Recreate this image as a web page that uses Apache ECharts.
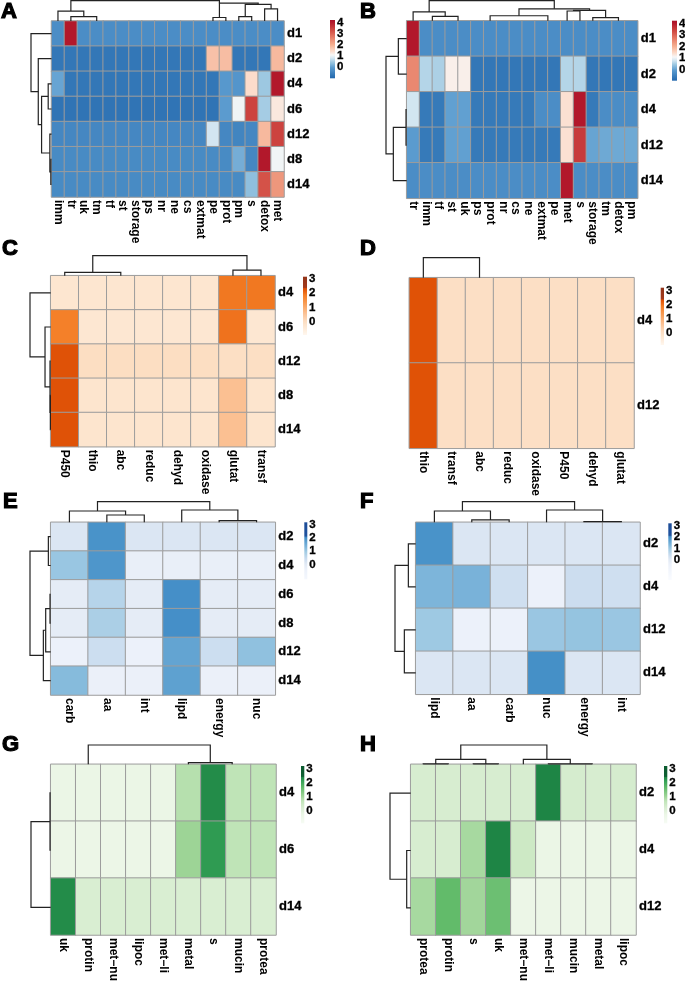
<!DOCTYPE html>
<html><head><meta charset="utf-8">
<script src="https://cdn.jsdelivr.net/npm/echarts@6/dist/echarts.min.js"></script>
<style>html,body{margin:0;padding:0;background:#fff}#c{width:685px;height:984px}</style>
</head><body><div id="c"></div>
<script>
// ---------------- DATA ----------------
const A_cols = ['imm','tr','uk','tm','tf','st','storage','ps','nr','ne','cs','extmat','pe','prot','pm','s','detox','met'];
const A_rows = ['d1','d2','d4','d6','d12','d8','d14'];
const A_vals = [
  [-0.35,4.0,-0.35,-0.35,-0.35,-0.35,-0.35,-0.35,-0.35,-0.35,-0.35,-0.35,-0.35,-0.35,-0.35,-0.35,-0.35,-0.35],
  [-0.75,-0.75,-0.75,-0.75,-0.75,-0.75,-0.75,-0.75,-0.75,-0.75,-0.75,-0.75,1.75,1.8,-0.75,-0.75,-0.75,1.85],
  [0.0,-0.75,-0.75,-0.75,-0.75,-0.75,-0.75,-0.75,-0.75,-0.75,-0.75,-0.75,-0.75,-0.15,-0.2,1.4,0.4,4.0],
  [-0.8,-0.8,-0.8,-0.8,-0.8,-0.8,-0.8,-0.8,-0.8,-0.8,-0.8,-0.8,-0.8,-0.1,1.0,3.4,0.45,1.25],
  [-0.45,-0.45,-0.45,-0.45,-0.45,-0.45,-0.45,-0.45,-0.45,-0.45,-0.45,-0.45,0.75,-0.45,-0.5,-0.45,1.85,3.4],
  [-0.4,-0.4,-0.4,-0.4,-0.4,-0.4,-0.4,-0.4,-0.4,-0.4,-0.4,-0.4,-0.4,-0.4,0.1,-0.45,4.0,1.0],
  [-0.4,-0.4,-0.4,-0.4,-0.4,-0.4,-0.4,-0.4,-0.4,-0.4,-0.4,-0.4,-0.4,-0.4,-0.4,0.3,3.2,2.3]
];
const A_ticks = [0,1,2,3,4];
const A_colTree = [[1,0,3,0,14],[0,0,2,14,31],[12,0,13,0,11],[14,0,15,0,14],[16,0,17,0,38],[14.5,14,16.5,38,52],[12.5,11,15.5,52,56],[1,31,12.5,56,64]];
const A_rowTree = [[2,0,3,0,10],[5,0,6,0,2],[4,0,5.5,2,5],[2.5,10,4.75,5,30],[1,0,3.625,30,40],[0,0,2.31,40,62]];

const B_cols = ['tr','imm','tf','st','uk','ps','prot','nr','cs','ne','extmat','pe','met','s','storage','tm','detox','pm'];
const B_rows = ['d1','d2','d4','d12','d14'];
const B_vals = [
  [4.0,-0.35,-0.35,-0.35,-0.35,-0.35,-0.35,-0.35,-0.35,-0.35,-0.35,-0.35,-0.35,-0.35,-0.35,-0.35,-0.35,-0.35],
  [2.5,0.55,0.5,1.15,1.15,-0.75,-0.75,-0.75,-0.75,-0.75,-0.75,-0.75,0.55,0.55,-0.75,-0.75,-0.75,-0.75],
  [0.75,-0.7,-0.7,-0.05,-0.05,-0.7,-0.7,-0.7,-0.7,-0.7,-0.35,-0.35,1.35,4.0,-0.7,-0.35,-0.35,-0.35],
  [-0.1,-0.7,-0.7,-0.05,-0.05,-0.7,-0.7,-0.7,-0.7,-0.7,-0.7,-0.7,1.35,3.5,0.0,0.05,0.05,0.05],
  [-0.35,-0.35,-0.35,-0.35,-0.35,-0.35,-0.35,-0.35,-0.35,-0.35,-0.35,-0.35,4.0,-0.35,-0.35,-0.35,-0.35,-0.35]
];
const B_ticks = [0,1,2,3,4];
const B_colTree = [[1.5,0,3.5,0,14],[0,0,2.5,14,28],[6,0,10.5,0,16],[12,0,13,0,31],[14,0,16,0,10],[12.5,31,15,10,33],[8.25,16,13.75,33,38],[1.25,28,11,38,64]];
const B_rowTree = [[0,0,1,0,25],[2,0,3,0,2],[2.5,2,4,0,40],[0.5,25,3.25,40,62]];

const C_cols = ['P450','thio','abc','reduc','dehyd','oxidase','glutat','transf'];
const C_rows = ['d4','d6','d12','d8','d14'];
const C_vals = [
  [-0.3,-0.3,-0.3,-0.3,-0.3,-0.3,1.9,1.9],
  [1.8,-0.35,-0.35,-0.35,-0.35,-0.35,1.95,-0.35],
  [2.25,0.0,0.0,0.0,0.0,0.0,-0.05,-0.05],
  [2.25,-0.25,-0.25,-0.25,-0.25,-0.25,0.6,-0.25],
  [2.25,-0.25,-0.25,-0.25,-0.25,-0.25,0.6,-0.25]
];
const C_ticks = [0,1,2,3];
const C_colTree = [[0,0,2,0,10],[6,0,7,0,17],[1,10,6.5,17,60]];
const C_rowTree = [[3,0,4,0,1],[2,0,3.5,1,2],[1,0,2.75,2,17],[0,0,1.875,17,62]];

const D_cols = ['thio','transf','abc','reduc','oxidase','P450','dehyd','glutat'];
const D_rows = ['d4','d12'];
const D_vals = [
  [2.25,-0.05,-0.05,-0.05,-0.05,-0.05,-0.05,-0.05],
  [2.25,-0.05,-0.05,-0.05,-0.05,-0.05,-0.05,-0.05]
];
const D_ticks = [0,1,2,3];
const D_colTree = [[0,0,2,0,60]];
const D_rowTree = [];

const E_cols = ['carb','aa','int','lipd','energy','nuc'];
const E_rows = ['d2','d4','d6','d8','d12','d14'];
const E_vals = [
  [0.1,1.9,0.1,0.1,0.1,0.1],
  [1.0,1.85,-0.3,-0.3,-0.3,-0.3],
  [-0.15,0.65,-0.15,1.95,-0.15,-0.15],
  [-0.15,0.8,-0.15,1.95,-0.15,-0.15],
  [-0.45,0.35,-0.45,1.6,0.35,1.1],
  [1.2,-0.35,-0.35,1.65,-0.35,-0.35]
];
const E_ticks = [0,1,2,3];
const E_colTree = [[1,0,2,0,22],[0,0,1.5,22,34],[4,0,5,0,5],[3,0,4.5,5,37],[0.75,34,3.75,37,62]];
const E_rowTree = [[0,0,1,0,7],[2,0,3,0,2],[2.5,2,4,0,15],[3.25,15,5,0,22],[0.5,7,4.125,22,62]];

const F_cols = ['lipd','aa','carb','nuc','energy','int'];
const F_rows = ['d2','d4','d12','d14'];
const F_vals = [
  [1.9,0.1,0.1,0.1,0.1,0.1],
  [1.3,1.35,0.3,-0.45,0.35,0.3],
  [0.95,-0.45,-0.45,1.0,1.05,1.0],
  [0.1,0.1,0.1,1.95,0.1,0.1]
];
const F_ticks = [0,1,2,3];
const F_colTree = [[1,0,2,0,7],[0,0,1.5,7,34],[4,0,5,0,2],[3,0,4.5,2,37],[0.75,34,3.75,37,62]];
const F_rowTree = [[0,0,1,0,22],[2,0,3,0,34],[0.5,22,2.5,34,62]];

const G_cols = ['uk','protin','met\u2212nu','lipoc','met\u2212li','metal','s','mucin','protea'];
const G_rows = ['d4','d6','d14'];
const G_vals = [
  [-0.3,-0.3,-0.3,-0.3,-0.3,0.75,2.3,0.65,0.65],
  [-0.35,-0.35,-0.35,-0.35,-0.35,1.0,2.15,0.65,0.65],
  [2.3,0.15,0.15,0.15,0.15,0.15,0.15,0.15,0.15]
];
const G_ticks = [0,1,2,3];
const G_colTree = [[5,0,6.75,0,5],[1,0,5.875,5,58]];
const G_rowTree = [[0,0,1,0,2],[0.5,2,2,0,59]];

const H_cols = ['protea','protin','s','uk','met\u2212nu','met\u2212li','mucin','metal','lipoc'];
const H_rows = ['d2','d4','d12'];
const H_vals = [
  [0.2,0.2,0.2,0.2,0.2,2.35,0.25,0.2,0.25],
  [0.2,0.2,0.9,2.35,0.4,-0.3,-0.3,-0.3,-0.3],
  [0.9,1.6,0.95,1.5,-0.35,-0.35,-0.35,-0.35,-0.35]
];
const H_ticks = [0,1,2,3];
const H_colTree = [[0,0,1,0,1],[2,0,3,0,1],[0.5,1,2.5,1,15],[5,0,6.75,0,1],[4,0,5.875,1,15],[1.5,15,4.94,15,58]];
const H_rowTree = [[1,0,2,0,12],[0,0,1.5,12,62]];

// ---------------- STYLE ----------------
const PAL = {
  rdbu: [[-1.05,'#2166ac'],[-0.1,'#5a9bcf'],[0.4,'#9dc8e1'],[0.75,'#d3e6f1'],[1.05,'#f7f7f7'],[1.4,'#fcdccb'],[2.0,'#f5ae8f'],[2.6,'#e8806a'],[3.3,'#d04a42'],[4.0,'#b2182b'],[4.3,'#a50f25']],
  oranges: [[-0.95,'#fff8f0'],[-0.3,'#fde6d0'],[0.05,'#fcdcc0'],[0.6,'#fbc092'],[1.2,'#f9a05a'],[1.85,'#f47d25'],[2.25,'#e05206'],[2.3,'#d94e08'],[2.36,'#a33a1c'],[3.3,'#8e3218']],
  blues: [[-1.8,'#fafcff'],[-1.15,'#f4f7fd'],[-0.4,'#ecf1fa'],[0,'#e1e9f4'],[0.4,'#c9dcef'],[0.9,'#a3cce4'],[1.3,'#7db5da'],[1.95,'#4590c8'],[2.02,'#3a84c2'],[2.1,'#1f529e'],[3.3,'#1c4b96']],
  greens: [[-1,'#f7fcf5'],[-0.3,'#ebf6e6'],[0.2,'#d7edd0'],[0.65,'#c0e4b8'],[1.0,'#9dd496'],[1.6,'#62bb6a'],[2.1,'#33a055'],[2.35,'#1f8746'],[2.42,'#0e5f32'],[3.3,'#0a5a2e']]
};

const LAYOUT = [
  {k:'A', cols:A_cols, rows:A_rows, vals:A_vals, ticks:A_ticks, ct:A_colTree, rt:A_rowTree, pal:'rdbu',
   lx:1, ly:1, hm:{l:51.5,r:284,t:21,b:197}, dTop:0.6, dLeft:31, cb:{l:330,r:335,t:20,b:78.3,min:-1.05,max:4.2}},
  {k:'B', cols:B_cols, rows:B_rows, vals:B_vals, ticks:B_ticks, ct:B_colTree, rt:B_rowTree, pal:'rdbu',
   lx:360, ly:1, hm:{l:406.7,r:637.7,t:20.8,b:198.3}, dTop:0.6, dLeft:386, cb:{l:672,r:677,t:20.7,b:80.7,min:-1.0,max:4.2}},
  {k:'C', cols:C_cols, rows:C_rows, vals:C_vals, ticks:C_ticks, ct:C_colTree, rt:C_rowTree, pal:'oranges',
   lx:2, ly:237.5, hm:{l:50.7,r:275,t:275.7,b:446.7}, dTop:255.7, dLeft:30, cb:{l:303,r:307,t:276.7,b:335,min:-0.92,max:3.11}},
  {k:'D', cols:D_cols, rows:D_rows, vals:D_vals, ticks:D_ticks, ct:D_colTree, rt:D_rowTree, pal:'oranges',
   lx:360, ly:237.5, hm:{l:409.3,r:634,t:277.7,b:448.3}, dTop:257.7, dLeft:null, cb:{l:660.7,r:664,t:287.7,b:345,min:-0.9,max:3.16}},
  {k:'E', cols:E_cols, rows:E_rows, vals:E_vals, ticks:E_ticks, ct:E_colTree, rt:E_rowTree, pal:'blues',
   lx:3, ly:491, hm:{l:50.7,r:275.3,t:522.3,b:695}, dTop:501.7, dLeft:30, cb:{l:304.3,r:307.3,t:522.3,b:579.3,min:-1.15,max:3.13}},
  {k:'F', cols:F_cols, rows:F_rows, vals:F_vals, ticks:F_ticks, ct:F_colTree, rt:F_rowTree, pal:'blues',
   lx:360, ly:491, hm:{l:415.7,r:640,t:522.3,b:694.3}, dTop:501.7, dLeft:395, cb:{l:668.3,r:671.7,t:523.3,b:580,min:-1.75,max:3.14}},
  {k:'G', cols:G_cols, rows:G_rows, vals:G_vals, ticks:G_ticks, ct:G_colTree, rt:G_rowTree, pal:'greens',
   lx:2, ly:734, hm:{l:50.7,r:276,t:764.3,b:936}, dTop:745, dLeft:31, cb:{l:301,r:304.3,t:766,b:823.3,min:-0.96,max:3.17}},
  {k:'H', cols:H_cols, rows:H_rows, vals:H_vals, ticks:H_ticks, ct:H_colTree, rt:H_rowTree, pal:'greens',
   lx:360, ly:734, hm:{l:410.7,r:636,t:764.3,b:936.7}, dTop:745, dLeft:390, cb:{l:664,r:667.3,t:766,b:823.3,min:-0.96,max:3.17}}
];

const FONT = '"Liberation Sans", Arial, Helvetica, sans-serif';
const TXT = {fontWeight:'bold', fontFamily:FONT, color:'#000'};

function hex2rgb(h){h=h.replace('#','');return [parseInt(h.slice(0,2),16),parseInt(h.slice(2,4),16),parseInt(h.slice(4,6),16)];}
function rgb2hex(c){return '#'+c.map(v=>{const s=Math.round(Math.max(0,Math.min(255,v))).toString(16);return s.length<2?'0'+s:s;}).join('');}
function colorAt(stops,v){
  if(v<=stops[0][0]) return stops[0][1];
  for(let i=1;i<stops.length;i++){
    if(v<=stops[i][0]){
      const t=(v-stops[i-1][0])/(stops[i][0]-stops[i-1][0]);
      const a=hex2rgb(stops[i-1][1]), b=hex2rgb(stops[i][1]);
      return rgb2hex(a.map((x,j)=>x+(b[j]-x)*t));
    }
  }
  return stops[stops.length-1][1];
}
function ramp(stops,min,max,n){const o=[];for(let i=0;i<n;i++){o.push(colorAt(stops,min+(max-min)*i/(n-1)));}return o;}

const option = {animation:false, backgroundColor:'#fff', title:[], grid:[], xAxis:[], yAxis:[], series:[], visualMap:[]};

function dendroSeries(tree, xi, yi, orient){
  return {type:'custom', coordinateSystem:'cartesian2d', xAxisIndex:xi, yAxisIndex:yi, silent:true, clip:false,
    data: tree,
    renderItem: function(params, api){
      const x1=api.value(0),h1=api.value(1),x2=api.value(2),h2=api.value(3),h=api.value(4);
      const raw = orient==='top' ? [[x1,h1],[x1,h],[x2,h],[x2,h2]] : [[h1,x1],[h,x1],[h,x2],[h2,x2]];
      const pts = raw.map(p=>api.coord(p));
      return {type:'polyline', shape:{points:pts}, style:{stroke:'#222', lineWidth:1.2, fill:null}};
    }};
}

LAYOUT.forEach(P=>{
  const n=P.cols.length, m=P.rows.length, hm=P.hm;
  const stops=PAL[P.pal];
  const colors=ramp(stops,P.cb.min,P.cb.max,121);

  option.title.push({text:P.k, left:P.lx, top:P.ly, padding:0,
    textStyle:Object.assign({}, TXT, {fontSize:22, textBorderColor:'#000', textBorderWidth:1.2})});

  // heatmap grid
  let gi=option.grid.length;
  option.grid.push({left:hm.l, top:hm.t, width:hm.r-hm.l, height:hm.b-hm.t, containLabel:false});
  let xi=option.xAxis.length, yi=option.yAxis.length;
  option.xAxis.push({type:'category', gridIndex:gi, data:P.cols, position:'bottom',
    axisLine:{show:false}, axisTick:{show:false}, splitLine:{show:false}, splitArea:{show:false},
    axisLabel:Object.assign({interval:0, rotate:-90, margin:3, fontSize:12}, TXT)});
  option.yAxis.push({type:'category', gridIndex:gi, data:P.rows, inverse:true, position:'right',
    axisLine:{show:false}, axisTick:{show:false}, splitLine:{show:false}, splitArea:{show:false},
    axisLabel:Object.assign({interval:0, margin:3, fontSize:13, textBorderColor:'#000', textBorderWidth:0.3}, TXT)});
  const data=[];
  P.vals.forEach((row,r)=>row.forEach((v,c)=>data.push([c,r,v])));
  const si=option.series.length;
  option.series.push({type:'heatmap', xAxisIndex:xi, yAxisIndex:yi, data:data, silent:true, progressive:0,
    itemStyle:{borderColor:'#9c9c9c', borderWidth:1}, emphasis:{disabled:true}});
  option.visualMap.push({type:'continuous', show:false, seriesIndex:si, dimension:2,
    min:P.cb.min, max:P.cb.max, inRange:{color:colors}});

  // top dendrogram
  if(P.ct.length){
    gi=option.grid.length;
    option.grid.push({left:hm.l, top:P.dTop, width:hm.r-hm.l, height:hm.t-P.dTop});
    xi=option.xAxis.length; yi=option.yAxis.length;
    const hmax=Math.max(...P.ct.map(d=>d[4]));
    option.xAxis.push({type:'value', gridIndex:gi, min:-0.5, max:n-0.5, show:false});
    option.yAxis.push({type:'value', gridIndex:gi, min:0, max:hmax, show:false});
    option.series.push(dendroSeries(P.ct, xi, yi, 'top'));
  }
  // left dendrogram
  if(P.rt.length && P.dLeft!==null){
    gi=option.grid.length;
    option.grid.push({left:P.dLeft, top:hm.t, width:hm.l-P.dLeft, height:hm.b-hm.t});
    xi=option.xAxis.length; yi=option.yAxis.length;
    const hmax=Math.max(...P.rt.map(d=>d[4]));
    option.xAxis.push({type:'value', gridIndex:gi, min:0, max:hmax, inverse:true, show:false});
    option.yAxis.push({type:'value', gridIndex:gi, min:-0.5, max:m-0.5, inverse:true, show:false});
    option.series.push(dendroSeries(P.rt, xi, yi, 'left'));
  }
  // colour bar
  const cb=P.cb;
  gi=option.grid.length;
  option.grid.push({left:cb.l, top:cb.t, width:cb.r-cb.l, height:cb.b-cb.t});
  xi=option.xAxis.length; yi=option.yAxis.length;
  option.xAxis.push({type:'value', gridIndex:gi, min:0, max:1, show:false});
  option.yAxis.push({type:'value', gridIndex:gi, min:cb.min, max:cb.max, show:false});
  const grad = new echarts.graphic.LinearGradient(0,1,0,0, colors.map((c,i)=>({offset:i/(colors.length-1), color:c})));
  option.series.push({type:'custom', coordinateSystem:'cartesian2d', xAxisIndex:xi, yAxisIndex:yi, silent:true, clip:false,
    data:[[0,cb.min,cb.max]],
    renderItem:function(params, api){
      const p1=api.coord([0,api.value(2)]), p2=api.coord([1,api.value(1)]);
      return {type:'rect', shape:{x:p1[0], y:p1[1], width:p2[0]-p1[0], height:p2[1]-p1[1]}, style:{fill:grad}};
    }});
  // colour bar tick labels, positioned through the bar's value axis
  option.series.push({type:'custom', coordinateSystem:'cartesian2d', xAxisIndex:xi, yAxisIndex:yi, silent:true, clip:false,
    data:P.ticks.map(t=>[1,t]),
    renderItem:function(params, api){
      const p=api.coord([api.value(0), api.value(1)]);
      return {type:'text', x:p[0]+2, y:p[1]+0.5,
        style:{text:String(api.value(1)), font:'bold 11.5px '+FONT, fill:'#000', stroke:'#000', lineWidth:0.3,
          textAlign:'left', textVerticalAlign:'middle', verticalAlign:'middle'}};
    }});
});

const chart = echarts.init(document.getElementById('c'), null, {renderer:'canvas'});
chart.setOption(option);
</script></body></html>
